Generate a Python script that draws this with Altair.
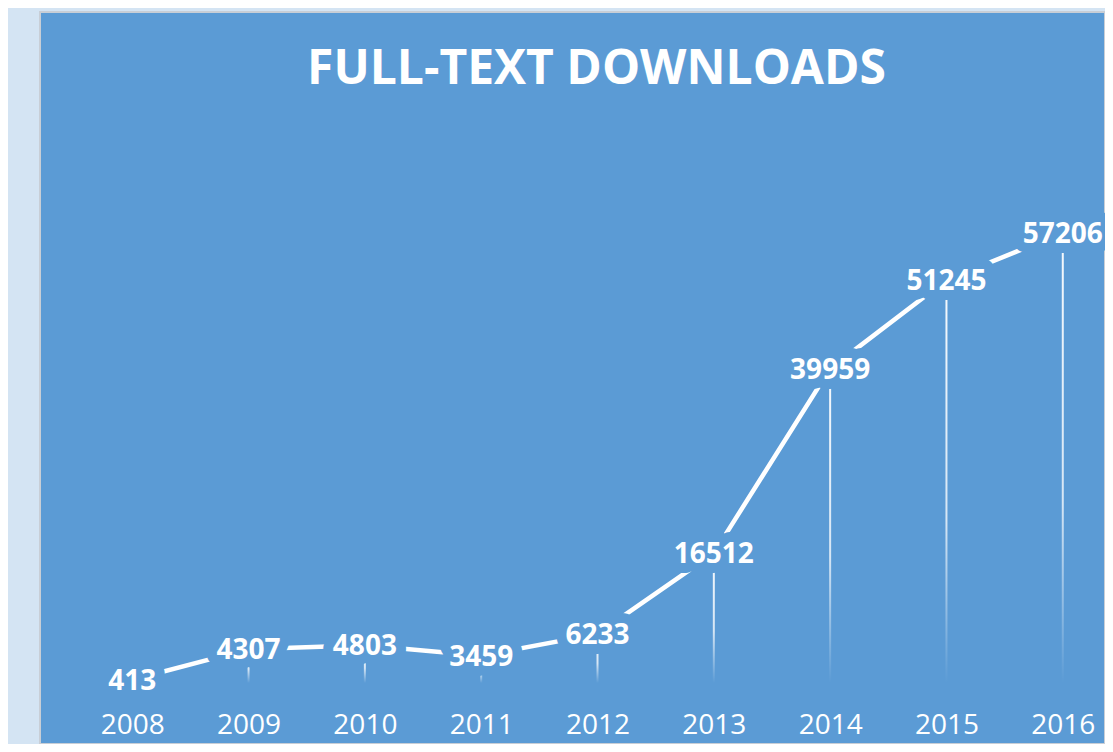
import altair as alt
import pandas as pd

years = [2008, 2009, 2010, 2011, 2012, 2013, 2014, 2015, 2016]
downloads = [413, 4307, 4803, 3459, 6233, 16512, 39959, 51245, 57206]
title_text = "FULL-TEXT DOWNLOADS"

PANEL = "#5B9BD5"
OUTER = "#D4E4F3"

df = pd.DataFrame({"year": years, "downloads": downloads})

x = alt.X(
    "year:Q",
    scale=alt.Scale(domain=[2007.25, 2016.32], nice=False, zero=False),
    axis=alt.Axis(
        values=years, format="d", title=None, domain=False, ticks=False, tickSize=0,
        grid=False, labelColor="white", labelFont="Open Sans", labelFontSize=28,
        labelPadding=0, labelBaseline="alphabetic", offset=-11,
        labelFlush=False, labelOverlap=False,
    ),
)
y = alt.Y("downloads:Q", scale=alt.Scale(domain=[-7755, 85300], nice=False, zero=False), axis=None)

base = alt.Chart(df)

grad = alt.Gradient(
    gradient="linear",
    stops=[
        alt.GradientStop(color="rgba(255,255,255,0.95)", offset=0),
        alt.GradientStop(color="rgba(255,255,255,0.75)", offset=0.6),
        alt.GradientStop(color="rgba(255,255,255,0.0)", offset=1),
    ],
    x1=0, x2=0, y1=0, y2=1,
)

drops = base.mark_bar(width=2, color=grad).encode(x=x, y=y, y2=alt.datum(0))
line = base.mark_line(color="white", strokeWidth=4.5).encode(x=x, y=y)
halo = base.mark_text(
    font="Open Sans", fontWeight="bold", fontSize=28, fill=PANEL, stroke=PANEL,
    strokeWidth=20, strokeJoin="round", baseline="middle", dy=2,
).encode(x=x, y=y, text=alt.Text("downloads:Q", format="d"))
labels = base.mark_text(
    font="Open Sans", fontWeight="bold", fontSize=28, color="white", baseline="middle", dy=2,
).encode(x=x, y=y, text=alt.Text("downloads:Q", format="d"))

chart = (
    alt.layer(drops, line, halo, labels)
    .properties(
        width=1065,
        height=732,
        title=alt.TitleParams(
            text=title_text, font="Open Sans", fontSize=48, fontWeight="bold",
            color="white", anchor="middle", offset=-71, baseline="alphabetic",
            dx=24, dy=49,
        ),
        background=OUTER,
        padding={"left": 32, "top": 4, "right": 0, "bottom": 0},
        autosize=alt.AutoSizeParams(type="none"),
    )
    .configure_view(fill=PANEL, stroke="#C8CED6", strokeWidth=2)
)

chart.save("out.html", embed_options={"renderer": "svg", "actions": False})
